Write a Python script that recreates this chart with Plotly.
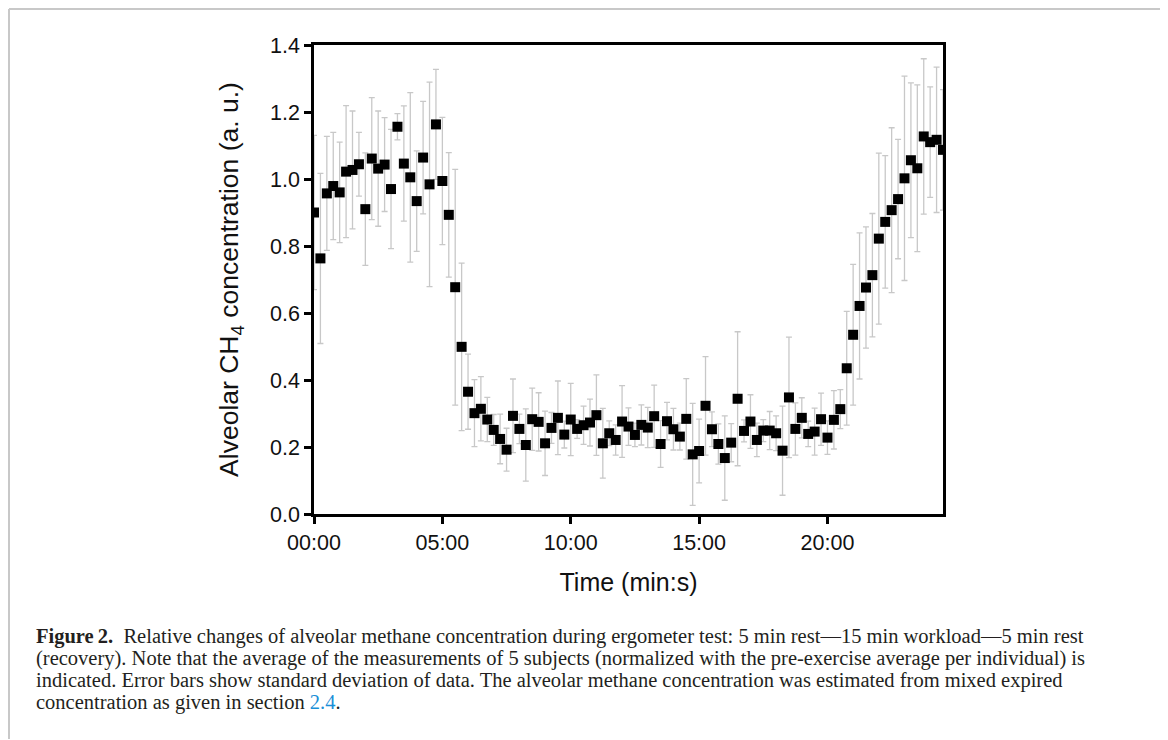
import plotly.graph_objects as go

# Time in minutes (one measurement every 15 s)
time_min = [i * 0.25 for i in range(99)]

ch4_mean = [
    0.900, 0.763, 0.957, 0.979, 0.960, 1.022, 1.027, 1.044, 0.910, 1.061,
    1.031, 1.043, 0.970, 1.156, 1.046, 1.005, 0.934, 1.064, 0.984, 1.163,
    0.994, 0.893, 0.677, 0.499, 0.365, 0.301, 0.314, 0.282, 0.251, 0.224,
    0.192, 0.293, 0.254, 0.206, 0.283, 0.275, 0.211, 0.257, 0.287, 0.237,
    0.282, 0.254, 0.265, 0.273, 0.295, 0.211, 0.241, 0.221, 0.276, 0.261,
    0.236, 0.266, 0.258, 0.292, 0.209, 0.277, 0.253, 0.231, 0.284, 0.178,
    0.188, 0.323, 0.253, 0.209, 0.167, 0.213, 0.344, 0.248, 0.276, 0.221,
    0.249, 0.249, 0.241, 0.189, 0.348, 0.254, 0.287, 0.239, 0.246, 0.283,
    0.228, 0.281, 0.313, 0.435, 0.535, 0.621, 0.676, 0.713, 0.822, 0.872,
    0.907, 0.940, 1.002, 1.056, 1.032, 1.127, 1.110, 1.117, 1.087,
]

ch4_sd = [
    0.230, 0.254, 0.170, 0.160, 0.150, 0.197, 0.176, 0.095, 0.168, 0.182,
    0.172, 0.140, 0.178, 0.039, 0.172, 0.253, 0.150, 0.168, 0.305, 0.164,
    0.190, 0.186, 0.352, 0.250, 0.112, 0.100, 0.096, 0.066, 0.046, 0.074,
    0.064, 0.110, 0.044, 0.108, 0.093, 0.087, 0.096, 0.046, 0.110, 0.040,
    0.108, 0.028, 0.057, 0.070, 0.120, 0.104, 0.037, 0.045, 0.107, 0.056,
    0.035, 0.060, 0.060, 0.093, 0.070, 0.056, 0.062, 0.040, 0.120, 0.152,
    0.095, 0.147, 0.052, 0.060, 0.126, 0.057, 0.200, 0.033, 0.080, 0.050,
    0.033, 0.057, 0.052, 0.133, 0.180, 0.078, 0.060, 0.038, 0.070, 0.078,
    0.050, 0.087, 0.058, 0.170, 0.210, 0.218, 0.181, 0.184, 0.255, 0.198,
    0.246, 0.178, 0.305, 0.231, 0.249, 0.232, 0.165, 0.217, 0.180,
]

x_tick_vals = [0, 5, 10, 15, 20]
x_tick_text = ["00:00", "05:00", "10:00", "15:00", "20:00"]
y_tick_vals = [0.0, 0.2, 0.4, 0.6, 0.8, 1.0, 1.2, 1.4]
y_tick_text = ["0.0", "0.2", "0.4", "0.6", "0.8", "1.0", "1.2", "1.4"]

caption_lines = [
    "<b>Figure\u202f2.</b>  Relative changes of alveolar methane concentration during ergometer test: 5 min rest\u201415 min workload\u20145 min rest",
    "(recovery). Note that the average of the measurements of 5 subjects (normalized with the pre-exercise average per individual) is",
    "indicated. Error bars show standard deviation of data. The alveolar methane concentration was estimated from mixed expired",
    "concentration as given in section <span style='color:#1a8fd8'>2.4</span>.",
]

# The page body has an 8 px margin, so page coordinates are shifted by OFF
OFF = 8
W, H = 1168 - OFF, 740 - OFF
ML, MT = 314 - OFF, 45 - OFF
MR = W - (943 - OFF)
MB = H - (514 - OFF)
PW, PH = W - ML - MR, H - MT - MB


def px_x(px):
    return (px - OFF - ML) / PW


def px_y(py):
    return (H - MB - (py - OFF)) / PH


fig = go.Figure()
fig.add_trace(go.Scatter(
    x=time_min, y=ch4_mean, mode="markers",
    marker=dict(symbol="square", size=10, color="black", line=dict(width=0)),
    error_y=dict(type="data", array=ch4_sd, visible=True,
                 color="#c8c8c8", thickness=1.3, width=3),
    showlegend=False,
))

axis_font = dict(family="Liberation Sans, Arial, sans-serif", size=21.5, color="#111")

fig.update_layout(
    width=W, height=H,
    margin=dict(l=ML, r=MR, t=MT, b=MB, autoexpand=False),
    paper_bgcolor="white", plot_bgcolor="white",
    xaxis=dict(
        range=[0, 24.5], tickmode="array", tickvals=x_tick_vals, ticktext=x_tick_text,
        showgrid=False, zeroline=False, showline=True, linecolor="black", linewidth=2.5,
        mirror=True, ticks="outside", ticklen=7, tickwidth=2.5, tickcolor="black",
        tickfont=axis_font,
        title=dict(text="Time (min:s)", font=dict(family="Liberation Sans, Arial, sans-serif", size=25, color="#111"), standoff=20),
    ),
    yaxis=dict(
        range=[0, 1.4], tickmode="array", tickvals=y_tick_vals, ticktext=y_tick_text,
        showgrid=False, zeroline=False, showline=True, linecolor="black", linewidth=2.5,
        mirror=True, ticks="outside", ticklen=7, tickwidth=2.5, tickcolor="black",
        tickfont=axis_font,
        title=dict(text="Alveolar CH<sub>4</sub> concentration (a. u.)",
                   font=dict(family="Liberation Sans, Arial, sans-serif", size=26.5, color="#111"), standoff=24),
    ),
)

# Frame around the whole figure panel (left, top and right edges)
frame = dict(color="#c8c8c8", width=2)
fig.add_shape(type="line", xref="paper", yref="paper",
              x0=px_x(9), x1=px_x(9), y0=px_y(739), y1=px_y(9), line=frame)
fig.add_shape(type="line", xref="paper", yref="paper",
              x0=px_x(9), x1=px_x(1162), y0=px_y(9), y1=px_y(9), line=frame)
fig.add_shape(type="line", xref="paper", yref="paper",
              x0=px_x(1162), x1=px_x(1162), y0=px_y(739), y1=px_y(9), line=frame)

caption_y = [636, 658, 680, 702]
for line, cy in zip(caption_lines, caption_y):
    fig.add_annotation(
        text=line, xref="paper", yref="paper", x=px_x(34), y=px_y(cy),
        xanchor="left", yanchor="middle", showarrow=False, align="left",
        font=dict(family="Liberation Serif, Times New Roman, serif", size=20.5, color="#231f20"),
    )

fig.write_html("out.html")
